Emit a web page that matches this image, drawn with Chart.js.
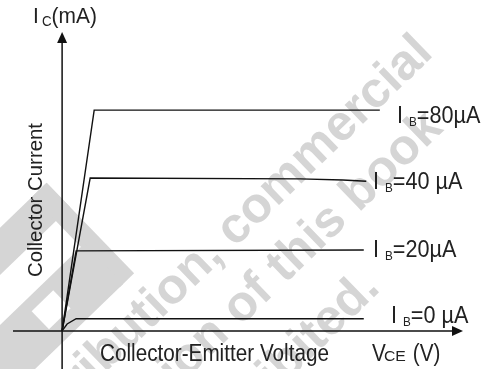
<!DOCTYPE html>
<html>
<head>
<meta charset="utf-8">
<script src="https://cdn.jsdelivr.net/npm/chart.js@4"></script>
<style>
  html, body { margin: 0; padding: 0; background: #fff; }
  #wrap { width: 491px; height: 369px; }
</style>
</head>
<body>
<div id="wrap"><canvas id="curves" width="491" height="369"></canvas></div>
<script>
// output characteristics, Vce (V) vs Ic (mA), one curve per base current
const vce80 = [0, 0.64, 6.34];
const ic80  = [0, 8.0, 8.0];
const vce40 = [0, 0.56, 4.75, 5.6, 6.07];
const ic40  = [0, 5.54, 5.51, 5.47, 5.42];
const vce20 = [0, 0.28, 6.02];
const ic20  = [0, 2.90, 2.93];
const vce0  = [0, 0.10, 0.28, 6.02];
const ic0   = [0, 0.25, 0.44, 0.44];

const baseCurrents = ['80', '40', '20', '0'];
const curveLabels = [
    [['I ', 24, 0], ['B', 13, 3], ['=80µA', 24, 0]],
    [['I ', 24, 0], ['B', 13, 3], ['=40 µA', 24, 0]],
    [['I ', 24, 0], ['B', 13, 3], ['=20µA', 24, 0]],
    [['I ', 24, 0], ['B', 13, 3], ['=0 µA', 24, 0]]
];

function pts(xs, ys) {
    return xs.map((x, i) => ({x: x, y: ys[i]}));
}

const FONT = '"Liberation Sans", Arial, sans-serif';
const INK = '#222';

// draws a run of text pieces (for subscripts), squeezed horizontally by sx
function drawParts(ctx, x, y, parts, sx) {
    ctx.save();
    ctx.translate(x, y);
    ctx.scale(sx, 1);
    let cx = 0;
    parts.forEach(p => {
        ctx.font = p[1] + 'px ' + FONT;
        ctx.fillText(p[0], cx, p[2]);
        cx += ctx.measureText(p[0]).width;
    });
    ctx.restore();
}

const watermark = {
    id: 'watermark',
    beforeDatasetsDraw(chart) {
        const ctx = chart.ctx;
        ctx.save();
        ctx.fillStyle = '#d5d5d5';
        // logo block, bottom left
        ctx.save();
        ctx.translate(0, 300);
        ctx.rotate(-44 * Math.PI / 180);
        ctx.fillRect(-120, -52, 235, 34);
        ctx.fillRect(95, -52, 20, 126);
        ctx.fillRect(-120, 18, 220, 56);
        ctx.fillStyle = '#fff';
        ctx.fillRect(15, 30, 30, 25);
        ctx.restore();

        ctx.font = 'bold 50px ' + FONT;
        ctx.textAlign = 'right';
        ctx.textBaseline = 'middle';
        const lines = [
            ['Not for distribution, commercial', 425, 45],
            ['use or reproduction of this book', 435, 120],
            ['Reproduction is prohibited.', 372, 280]
        ];
        lines.forEach(l => {
            ctx.save();
            ctx.translate(l[1], l[2]);
            ctx.rotate(-44 * Math.PI / 180);
            ctx.fillText(l[0], 0, 0);
            ctx.restore();
        });
        ctx.restore();
    }
};

const axesAndText = {
    id: 'axesAndText',
    afterDatasetsDraw(chart) {
        const ctx = chart.ctx;
        const xs = chart.scales.x, ys = chart.scales.y;
        const x0 = xs.getPixelForValue(0), y0 = ys.getPixelForValue(0);
        const xEnd = xs.getPixelForValue(xs.max), yEnd = ys.getPixelForValue(ys.max);
        ctx.save();
        ctx.strokeStyle = '#111';
        ctx.fillStyle = '#111';
        ctx.lineWidth = 1.5;
        ctx.beginPath();
        ctx.moveTo(xs.getPixelForValue(xs.min), y0);
        ctx.lineTo(xEnd - 8, y0);
        ctx.moveTo(x0, ys.getPixelForValue(ys.min));
        ctx.lineTo(x0, yEnd + 8);
        ctx.stroke();
        // arrow heads
        ctx.beginPath();
        ctx.moveTo(xEnd, y0);
        ctx.lineTo(xEnd - 11, y0 - 5);
        ctx.lineTo(xEnd - 11, y0 + 5);
        ctx.closePath();
        ctx.fill();
        ctx.beginPath();
        ctx.moveTo(x0, yEnd);
        ctx.lineTo(x0 - 5, yEnd + 11);
        ctx.lineTo(x0 + 5, yEnd + 11);
        ctx.closePath();
        ctx.fill();

        ctx.fillStyle = INK;
        ctx.textBaseline = 'alphabetic';
        ctx.textAlign = 'left';

        // labels at the right end of each curve
        const ends = [[397, 123], [373, 189], [373, 257], [391, 323]];
        curveLabels.forEach((parts, i) => {
            drawParts(ctx, ends[i][0], ends[i][1], parts, 0.9);
        });

        // axis titles
        drawParts(ctx, 33, 23, [['I', 22, 0], [' ', 12, 0], ['C', 14, 3], ['(mA)', 22, 0]], 0.95);
        drawParts(ctx, 100, 361, [['Collector-Emitter Voltage', 23, 0]], 0.9);
        drawParts(ctx, 372, 361, [['V', 23, 0]], 0.9);
        drawParts(ctx, 384, 361, [['CE', 15, 0]], 1.05);
        drawParts(ctx, 407, 361, [[' (V)', 23, 0]], 0.9);

        ctx.save();
        ctx.translate(41.5, 200);
        ctx.rotate(-Math.PI / 2);
        ctx.scale(0.97, 1);
        ctx.textAlign = 'center';
        ctx.font = '21px ' + FONT;
        ctx.fillText('Collector Current', 0, 0);
        ctx.restore();
        ctx.restore();
    }
};

const series = [[vce80, ic80], [vce40, ic40], [vce20, ic20], [vce0, ic0]];

new Chart(document.getElementById('curves'), {
    type: 'line',
    data: {
        datasets: series.map((s, i) => ({
            label: 'IB=' + baseCurrents[i] + 'µA',
            data: pts(s[0], s[1]),
            borderColor: '#111',
            borderWidth: 1.4,
            pointRadius: 0,
            tension: 0,
            fill: false
        }))
    },
    options: {
        responsive: false,
        animation: false,
        layout: { padding: { left: 13, right: 28, top: 32, bottom: 0 } },
        scales: {
            x: { type: 'linear', min: -0.98, max: 8, display: false },
            y: { type: 'linear', min: -1.38, max: 10.83, display: false }
        },
        plugins: {
            legend: { display: false },
            tooltip: { enabled: false }
        }
    },
    plugins: [watermark, axesAndText]
});
</script>
</body>
</html>
